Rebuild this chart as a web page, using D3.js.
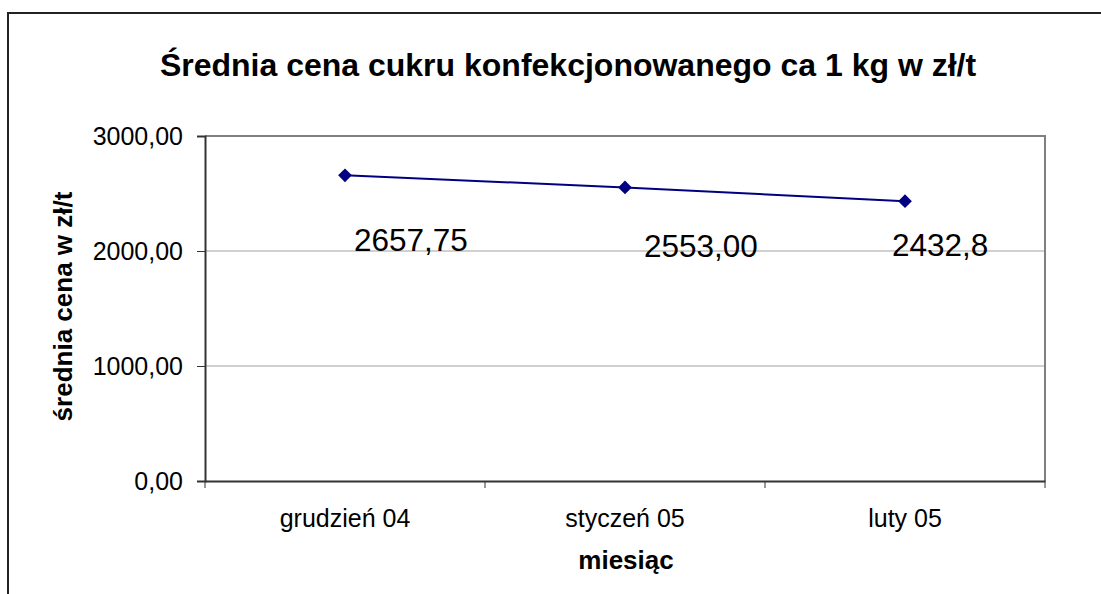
<!DOCTYPE html>
<html>
<head>
<meta charset="utf-8">
<script src="https://cdn.jsdelivr.net/npm/d3@7"></script>
<style>
  body { margin: 0; background: #fff; }
  svg text { font-family: "Liberation Sans", Arial, sans-serif; fill: #000; }
  .tytul { font-size: 32px; font-weight: bold; }
  .tytul-osi { font-size: 26px; font-weight: bold; }
  .os text { font-size: 25px; }
  .etykieta { font-size: 31.5px; }
</style>
</head>
<body>
<svg id="wykres"></svg>
<script>
const miesiace = ['grudzień 04', 'styczeń 05', 'luty 05'];
const ceny = [2657.75, 2553.00, 2432.8];
const etykiety = ['2657,75', '2553,00', '2432,8'];
const wartosciOsiY = [0, 1000, 2000, 3000];

// przesuniecia etykiet danych (recznie przesuniete w oryginale)
const przesunX = [9, 19, -13];
const przesunY = [76, 70, 55];

const szerokosc = 1101, wysokosc = 594;
const margines = { lewy: 205, prawy: 56, gorny: 136, dolny: 113 };
const szerPlot = szerokosc - margines.lewy - margines.prawy;
const wysPlot = wysokosc - margines.gorny - margines.dolny;

const svg = d3.select('#wykres').attr('width', szerokosc).attr('height', wysokosc);

// ramka calego wykresu
svg.append('rect')
    .attr('x', 8).attr('y', 13)
    .attr('width', 1200).attr('height', 700)
    .attr('fill', 'none')
    .attr('stroke', '#222')
    .attr('stroke-width', 2);

svg.append('text')
    .attr('class', 'tytul')
    .attr('x', 568).attr('y', 76)
    .attr('text-anchor', 'middle')
    .text('Średnia cena cukru konfekcjonowanego ca 1 kg w zł/t');

const plot = svg.append('g')
    .attr('transform', `translate(${margines.lewy}, ${margines.gorny})`);

const x = d3.scaleBand().domain(miesiace).range([0, szerPlot]);
const y = d3.scaleLinear().domain([0, 3000]).range([wysPlot, 0]);

// linie siatki
plot.append('g').selectAll('line')
    .data(wartosciOsiY.slice(1, 3))
    .join('line')
    .attr('x1', 0).attr('x2', szerPlot)
    .attr('y1', d => y(d)).attr('y2', d => y(d))
    .attr('stroke', '#c0c0c0')
    .attr('stroke-width', 1.5);

// gorna i prawa krawedz obszaru wykresu
plot.append('path')
    .attr('d', `M0,${y(3000)}H${szerPlot}V${y(0)}`)
    .attr('fill', 'none')
    .attr('stroke', '#808080')
    .attr('stroke-width', 2);

// os Y
const osY = d3.axisLeft(y)
    .tickValues(wartosciOsiY)
    .tickSize(8)
    .tickPadding(14)
    .tickFormat(d => d3.format('.2f')(d).replace('.', ','));
plot.append('g').attr('class', 'os').call(osY);

// os X - znaczniki na granicach kategorii
const osX = d3.axisBottom(x).tickSize(0).tickPadding(28);
const gX = plot.append('g').attr('class', 'os')
    .attr('transform', `translate(0, ${wysPlot})`)
    .call(osX);
gX.selectAll('.tick')
    .append('line')
    .attr('stroke', '#333')
    .attr('x1', -x.bandwidth() / 2).attr('x2', -x.bandwidth() / 2)
    .attr('y1', 0).attr('y2', 7);
gX.append('line')
    .attr('stroke', '#333')
    .attr('x1', szerPlot).attr('x2', szerPlot)
    .attr('y1', 0).attr('y2', 7);

plot.selectAll('.os .domain').attr('stroke', '#333').attr('stroke-width', 2);
plot.selectAll('.os .tick line').attr('stroke', '#333');

// tytuly osi
svg.append('text')
    .attr('class', 'tytul-osi')
    .attr('transform', `translate(72, ${margines.gorny + wysPlot / 2 - 2}) rotate(-90)`)
    .attr('text-anchor', 'middle')
    .text('średnia cena w zł/t');

svg.append('text')
    .attr('class', 'tytul-osi')
    .attr('x', 626).attr('y', 569)
    .attr('text-anchor', 'middle')
    .text('miesiąc');

// linia serii
const punkty = miesiace.map((m, i) => ({ m: m, v: ceny[i], i: i }));
const linia = d3.line()
    .x(d => x(d.m) + x.bandwidth() / 2)
    .y(d => y(d.v));

plot.append('path')
    .datum(punkty)
    .attr('d', linia)
    .attr('fill', 'none')
    .attr('stroke', '#000080')
    .attr('stroke-width', 2);

plot.selectAll('.punkt')
    .data(punkty)
    .join('path')
    .attr('class', 'punkt')
    .attr('transform', d => `translate(${x(d.m) + x.bandwidth() / 2}, ${y(d.v)})`)
    .attr('d', d3.symbol(d3.symbolDiamond2, 120))
    .attr('fill', '#000080');

plot.selectAll('.etykieta')
    .data(punkty)
    .join('text')
    .attr('class', 'etykieta')
    .attr('x', d => x(d.m) + x.bandwidth() / 2 + przesunX[d.i])
    .attr('y', d => y(d.v) + przesunY[d.i])
    .text(d => etykiety[d.i]);
</script>
</body>
</html>
